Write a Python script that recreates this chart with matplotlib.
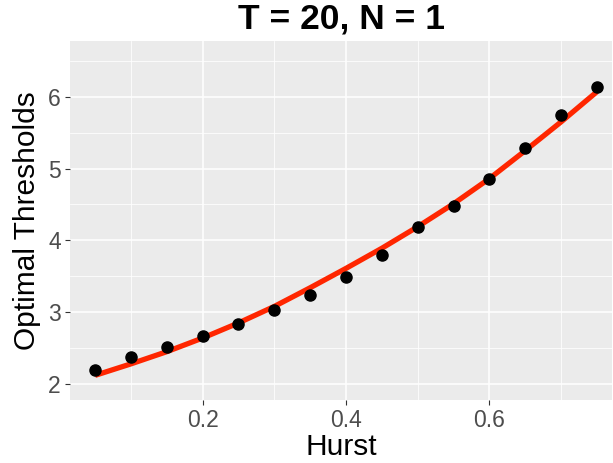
import numpy as np
from matplotlib import pyplot as plt
from matplotlib.ticker import MultipleLocator

plt.rcParams['font.family'] = ['Liberation Sans', 'DejaVu Sans']

# simulated optimal thresholds (points)
hurst = [0.05, 0.10, 0.15, 0.20, 0.25, 0.30, 0.35, 0.40,
         0.45, 0.50, 0.55, 0.60, 0.65, 0.70, 0.75]
thresholds = [2.20, 2.37, 2.52, 2.67, 2.83, 3.03, 3.24, 3.49,
              3.79, 4.18, 4.48, 4.85, 5.29, 5.74, 6.14]

# fitted curve (red line)
curve_x = [0.05, 0.10, 0.15, 0.20, 0.25, 0.30, 0.35, 0.40,
           0.45, 0.50, 0.55, 0.60, 0.65, 0.70, 0.75]
curve_y = [2.12, 2.28, 2.45, 2.64, 2.85, 3.08, 3.34, 3.61,
           3.89, 4.19, 4.51, 4.86, 5.25, 5.65, 6.07]

fig = plt.figure(figsize=(6.13, 4.63), dpi=100)
ax = fig.add_axes([70/613, 1 - 400/463, (612-70)/613, (400-41)/463])

ax.set_facecolor('#EBEBEB')
for s in ax.spines.values():
    s.set_visible(False)

ax.xaxis.set_major_locator(MultipleLocator(0.2))
ax.xaxis.set_minor_locator(MultipleLocator(0.1))
ax.yaxis.set_major_locator(MultipleLocator(1))
ax.yaxis.set_minor_locator(MultipleLocator(0.5))
ax.grid(which='major', color='white', lw=1.1)
ax.grid(which='minor', color='white', lw=0.55)
ax.set_axisbelow(True)

ax.plot(curve_x, curve_y, color='#FF2600', lw=3.8, solid_capstyle='butt', zorder=3)
ax.plot(hurst, thresholds, 'o', color='black', ms=8, zorder=4)

ax.set_xlim(0.015, 0.771)
ax.set_ylim(1.777, 6.776)

ax.tick_params(which='major', length=3.5, width=0.8, color='#333333',
               labelsize=16.5, labelcolor='#4D4D4D', pad=3)
ax.tick_params(which='minor', length=0)
ax.set_xticklabels([], minor=True)

ax.set_xlabel('Hurst', fontsize=21.5, labelpad=1)
ax.set_ylabel('Optimal Thresholds', fontsize=21.5, labelpad=5)
ax.set_title('T = 20, N = 1', fontsize=25.5, fontweight='bold', pad=9)

fig.savefig('out.png', dpi=100)
